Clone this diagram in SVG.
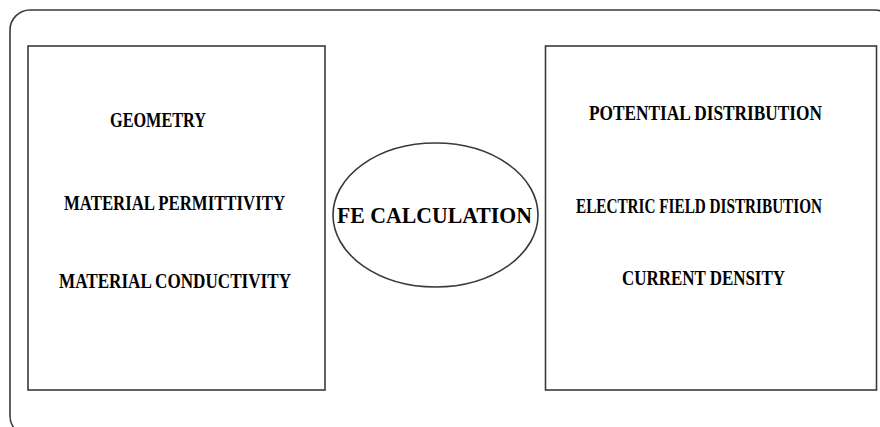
<svg xmlns="http://www.w3.org/2000/svg" width="880" height="427" viewBox="0 0 880 427">
<style>
.ln{fill:none;stroke:#3a3a3a;stroke-width:1.6}
.t{font-family:"Liberation Serif","Times New Roman",serif;font-weight:bold;font-size:21px;fill:#000}
.c{font-size:23px}
</style>
<rect width="880" height="427" fill="#fff"/>
<g id="frame"><rect class="ln" x="10" y="10" width="885" height="426" rx="20" ry="20"/></g>
<g id="inputs">
<rect class="ln" x="28" y="46" width="297" height="344"/>
<text class="t" x="110" y="127" textLength="96" lengthAdjust="spacingAndGlyphs">GEOMETRY</text>
<text class="t" x="64" y="210" textLength="221" lengthAdjust="spacingAndGlyphs">MATERIAL PERMITTIVITY</text>
<text class="t" x="59" y="288" textLength="232" lengthAdjust="spacingAndGlyphs">MATERIAL CONDUCTIVITY</text>
</g>
<g id="fe">
<ellipse class="ln" cx="435.5" cy="215" rx="102.5" ry="72"/>
<text class="t c" x="337" y="223" textLength="195" lengthAdjust="spacingAndGlyphs">FE CALCULATION</text>
</g>
<g id="outputs">
<rect class="ln" x="545.5" y="46" width="331" height="344"/>
<text class="t" x="589" y="120" textLength="233" lengthAdjust="spacingAndGlyphs">POTENTIAL DISTRIBUTION</text>
<text class="t" transform="translate(576,213) scale(0.75,1)" x="0" y="0" textLength="328" lengthAdjust="spacingAndGlyphs">ELECTRIC FIELD DISTRIBUTION</text>
<text class="t" x="622" y="285" textLength="163" lengthAdjust="spacingAndGlyphs">CURRENT DENSITY</text>
</g>
<g id="connectors"></g>
</svg>
